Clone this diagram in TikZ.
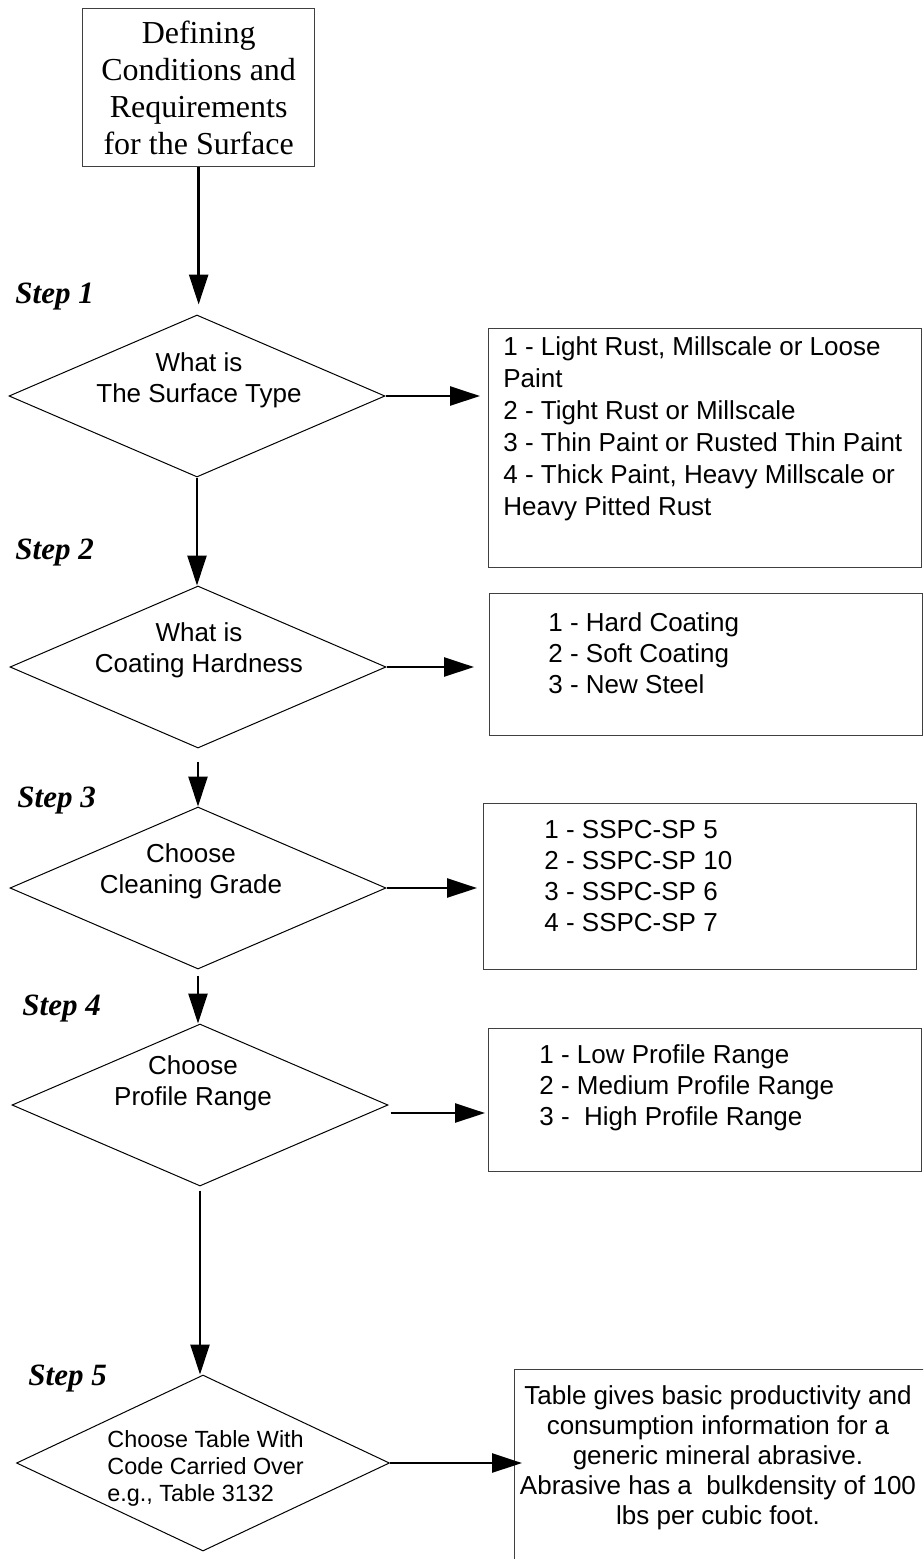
\documentclass[tikz,border=0pt]{standalone}
\usepackage{fontspec}
\setmainfont{Liberation Serif}
\setsansfont{Liberation Sans}
\usetikzlibrary{calc,arrows.meta,shapes.geometric}
\tikzset{
	flowbox/.style={draw=black!75, line width=0.65pt, inner sep=0pt, anchor=north west},
	decision/.style={draw, diamond, line width=0.5pt, inner sep=0pt, minimum width=188pt, minimum height=81pt},
	boxtext/.style={anchor=north west, align=left, inner sep=0pt, font=\sffamily\fontsize{13}{15.5}\selectfont},
	asktext/.style={anchor=north, align=center, inner sep=0pt, font=\sffamily\fontsize{13}{15.5}\selectfont},
	steplabel/.style={anchor=base west, inner sep=0pt, font=\rmfamily\bfseries\itshape\fontsize{15.5}{18}\selectfont},
	flow/.style={line width=1.3pt, -{Triangle[length=15pt,width=9.5pt]}}
}

\begin{document}
\begin{tikzpicture}[x=0.5pt, y=-0.5pt]
		%%%%% START %%%%%
		\clip (0,0) rectangle (923,1559);
		
		\node[flowbox, minimum width=116pt, minimum height=79pt, align=center, font=\rmfamily\fontsize{16}{18.5}\selectfont] (start) at (82,8) {Defining\\Conditions and\\Requirements\\for the Surface};
		
		% the five questions
		\node[decision] (d1) at (197,396) {};
		\node[decision] (d2) at (198,667) {};
		\node[decision] (d3) at (198,888) {};
		\node[decision] (d4) at (200,1105) {};
		\node[decision, minimum width=186.5pt, minimum height=88pt] (d5) at (203,1463) {};
		
		\node[asktext] (q1) at (199,352) {What is\\The Surface Type};
		\node[asktext] (q2) at (199,622) {What is\\Coating Hardness};
		\node[asktext] (q3) at (191,843) {Choose\\Cleaning Grade};
		\node[asktext] (q4) at (193,1055) {Choose\\Profile Range};
		\node[boxtext, font=\sffamily\fontsize{11.7}{13.5}\selectfont] (q5) at (107,1430) {Choose Table With\\Code Carried Over\\e.g., Table 3132};
		
		\node[steplabel] (s1) at (15,303) {Step 1};
		\node[steplabel] (s2) at (15,559) {Step 2};
		\node[steplabel] (s3) at (17,807) {Step 3};
		\node[steplabel] (s4) at (22,1015) {Step 4};
		\node[steplabel] (s5) at (28,1385) {Step 5};
		
		% the answer boxes
		\node[flowbox, minimum width=216.5pt, minimum height=119.5pt] (b1) at (488,328) {};
		\node[flowbox, minimum width=216.5pt, minimum height=71pt] (b2) at (489,593) {};
		\node[flowbox, minimum width=216.5pt, minimum height=83pt] (b3) at (483,803) {};
		\node[flowbox, minimum width=216.5pt, minimum height=71.5pt] (b4) at (488,1028) {};
		\node[flowbox, minimum width=215pt, minimum height=110pt] (b5) at (514,1369) {};
		
		\node[boxtext, font=\sffamily\fontsize{13}{16}\selectfont] (t1) at (503,336) {1 - Light Rust, Millscale or Loose\\Paint\\2 - Tight Rust or Millscale\\3 - Thin Paint or Rusted Thin Paint\\4 - Thick Paint, Heavy Millscale or\\Heavy Pitted Rust};
		\node[boxtext] (t2) at (548,612) {1 - Hard Coating\\2 - Soft Coating\\3 - New Steel};
		\node[boxtext] (t3) at (544,820) {1 - SSPC-SP 5\\2 - SSPC-SP 10\\3 - SSPC-SP 6\\4 - SSPC-SP 7};
		\node[boxtext] (t4) at (539,1044) {1 - Low Profile Range\\2 - Medium Profile Range\\3 -~ High Profile Range};
		\node[asktext, font=\sffamily\fontsize{13}{15}\selectfont] (t5) at (718,1385) {Table gives basic productivity and\\consumption information for a\\generic mineral abrasive.\\Abrasive has a~ bulkdensity of 100\\lbs per cubic foot.};
		
		% down the left side
		\draw[flow, shorten >=5pt] (start.south) -- (start.south |- d1.north);
		\draw[flow] (d1.south) -- (d1.south |- d2.north);
		\draw[flow] ($(d2.south)+(0,13)$) -- (d2.south |- d3.north);
		\draw[flow] ($(d3.south)+(0,6)$) -- (d3.south |- d4.north);
		\draw[flow] ($(d4.south)+(0,4)$) -- (d4.south |- d5.north);
		
		% out to the right
		\coordinate (h4) at ($(d4.east)+(2,8)$);
		\draw[flow, shorten >=4pt] (d1.east) -- (d1.east -| b1.west);
		\draw[flow, shorten >=7.5pt] (d2.east) -- (d2.east -| b2.west);
		\draw[flow, shorten >=3pt] (d3.east) -- (d3.east -| b3.west);
		\draw[flow, shorten >=1.5pt] (h4) -- (h4 -| b4.west);
		\draw[flow, shorten >=-4pt] (d5.east) -- (d5.east -| b5.west);
		
		%%%%% END %%%%%
	\end{tikzpicture}
\end{document}
